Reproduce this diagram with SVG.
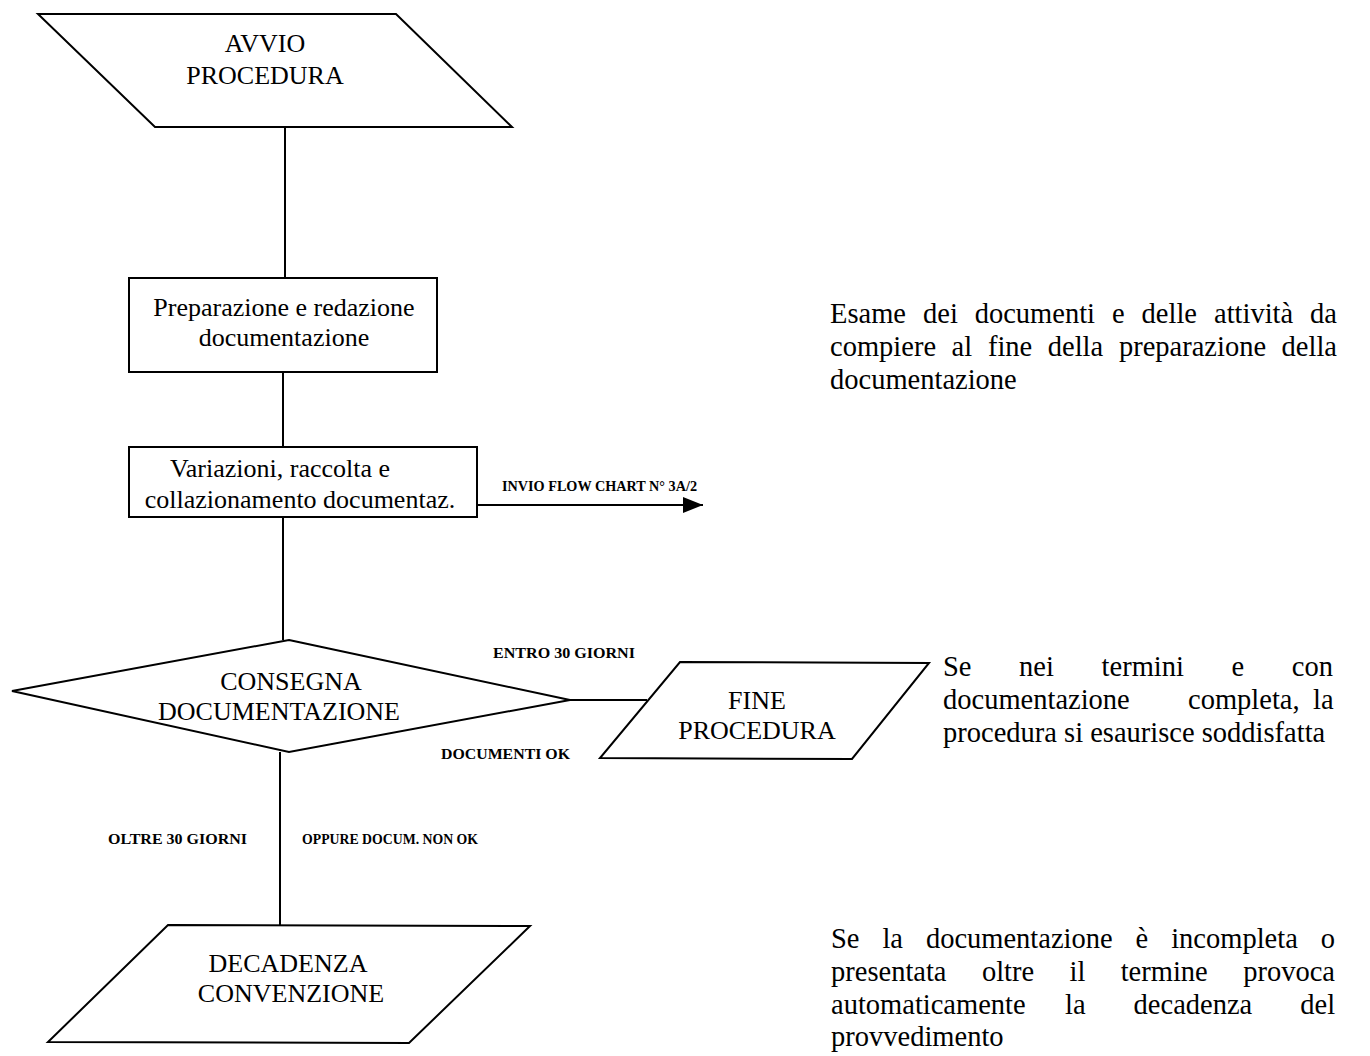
<svg xmlns="http://www.w3.org/2000/svg" width="1370" height="1056" viewBox="0 0 1370 1056">
  <defs>
    <marker id="arrowhead" viewBox="0 0 20 16" refX="20" refY="8" markerWidth="20" markerHeight="16" markerUnits="userSpaceOnUse" orient="auto">
      <path d="M0,0 L20,8 L0,16 Z" fill="#000"/>
    </marker>
    <style>
      .shape { fill: #fff; stroke: #000; stroke-width: 2; }
      .link { fill: none; stroke: #000; stroke-width: 2; }
      .label { font-family: "Liberation Serif", "Times New Roman", serif; font-size: 26px; fill: #000; }
      .tag { font-family: "Liberation Serif", "Times New Roman", serif; font-size: 15px; font-weight: bold; fill: #000; }
      .note { font-family: "Liberation Serif", "Times New Roman", serif; font-size: 28.5px; fill: #000; }
    </style>
  </defs>
  <rect width="1370" height="1056" fill="#fff"/>

  <!-- connectors -->
  <g id="connectors">
    <line class="link" x1="285" y1="127" x2="285" y2="278"/>
    <line class="link" x1="283" y1="372" x2="283" y2="447"/>
    <line class="link" x1="283" y1="517" x2="283" y2="640"/>
    <line class="link" x1="477" y1="505" x2="703" y2="505" marker-end="url(#arrowhead)"/>
    <line class="link" x1="570" y1="700" x2="647" y2="700"/>
    <line class="link" x1="280" y1="752" x2="280" y2="925"/>
    <text class="tag" x="502" y="491" textLength="195" lengthAdjust="spacingAndGlyphs">INVIO FLOW CHART N° 3A/2</text>
    <text class="tag" x="493" y="658" textLength="142" lengthAdjust="spacingAndGlyphs">ENTRO 30 GIORNI</text>
    <text class="tag" x="441" y="759" textLength="129" lengthAdjust="spacingAndGlyphs">DOCUMENTI OK</text>
    <text class="tag" x="108" y="844" textLength="139" lengthAdjust="spacingAndGlyphs">OLTRE 30 GIORNI</text>
    <text class="tag" x="302" y="844" textLength="176" lengthAdjust="spacingAndGlyphs">OPPURE DOCUM. NON OK</text>
  </g>

  <!-- start -->
  <g id="avvio">
    <polygon class="shape" points="38,14 396,14 512,127 155,127"/>
    <text class="label" x="265" y="52" text-anchor="middle">AVVIO</text>
    <text class="label" x="265" y="84" text-anchor="middle">PROCEDURA</text>
  </g>

  <!-- preparation -->
  <g id="preparazione">
    <rect class="shape" x="129" y="278" width="308" height="94"/>
    <text class="label" x="284" y="316" text-anchor="middle">Preparazione e redazione</text>
    <text class="label" x="284" y="346" text-anchor="middle">documentazione</text>
  </g>

  <!-- collection -->
  <g id="variazioni">
    <rect class="shape" x="129" y="447" width="348" height="70"/>
    <text class="label" x="280" y="477" text-anchor="middle">Variazioni, raccolta e</text>
    <text class="label" x="300" y="508" text-anchor="middle">collazionamento documentaz.</text>
  </g>

  <!-- decision -->
  <g id="consegna">
    <polygon class="shape" points="289,640 570,700 289,752 12,691"/>
    <text class="label" x="291" y="690" text-anchor="middle">CONSEGNA</text>
    <text class="label" x="279" y="720" text-anchor="middle">DOCUMENTAZIONE</text>
  </g>

  <!-- successful end -->
  <g id="fine">
    <polygon class="shape" points="680,662 929,663 852,759 600,758"/>
    <text class="label" x="757" y="709" text-anchor="middle">FINE</text>
    <text class="label" x="757" y="739" text-anchor="middle">PROCEDURA</text>
  </g>

  <!-- lapse -->
  <g id="decadenza">
    <polygon class="shape" points="168,925 530,926 409,1043 48,1042"/>
    <text class="label" x="288" y="972" text-anchor="middle">DECADENZA</text>
    <text class="label" x="291" y="1002" text-anchor="middle">CONVENZIONE</text>
  </g>

  <!-- side notes, justified -->
  <g id="nota-esame">
    <text class="note" y="323"><tspan x="830">Esame</tspan><tspan x="923">dei</tspan><tspan x="974.7">documenti</tspan><tspan x="1112">e</tspan><tspan x="1141.6">delle</tspan><tspan x="1214">attività</tspan><tspan x="1310">da</tspan></text>
    <text class="note" y="356"><tspan x="830">compiere</tspan><tspan x="951.6">al</tspan><tspan x="987.9">fine</tspan><tspan x="1047.8">della</tspan><tspan x="1118.9">preparazione</tspan><tspan x="1281.6">della</tspan></text>
    <text class="note" x="830" y="389">documentazione</text>
  </g>

  <g id="nota-fine">
    <text class="note" y="676"><tspan x="943">Se</tspan><tspan x="1019">nei</tspan><tspan x="1101.6">termini</tspan><tspan x="1231.5">e</tspan><tspan x="1291.8">con</tspan></text>
    <text class="note" y="709"><tspan x="943">documentazione</tspan><tspan x="1188">completa,</tspan><tspan x="1313">la</tspan></text>
    <text class="note" x="943" y="742">procedura si esaurisce soddisfatta</text>
  </g>

  <g id="nota-decadenza">
    <text class="note" y="948"><tspan x="831">Se</tspan><tspan x="882.4">la</tspan><tspan x="925.9">documentazione</tspan><tspan x="1135.6">è</tspan><tspan x="1171.2">incompleta</tspan><tspan x="1320.8">o</tspan></text>
    <text class="note" y="981"><tspan x="831">presentata</tspan><tspan x="981.9">oltre</tspan><tspan x="1069.5">il</tspan><tspan x="1120.7">termine</tspan><tspan x="1243.2">provoca</tspan></text>
    <text class="note" y="1014"><tspan x="831">automaticamente</tspan><tspan x="1065">la</tspan><tspan x="1133.6">decadenza</tspan><tspan x="1300.3">del</tspan></text>
    <text class="note" x="831" y="1046">provvedimento</text>
  </g>
</svg>
